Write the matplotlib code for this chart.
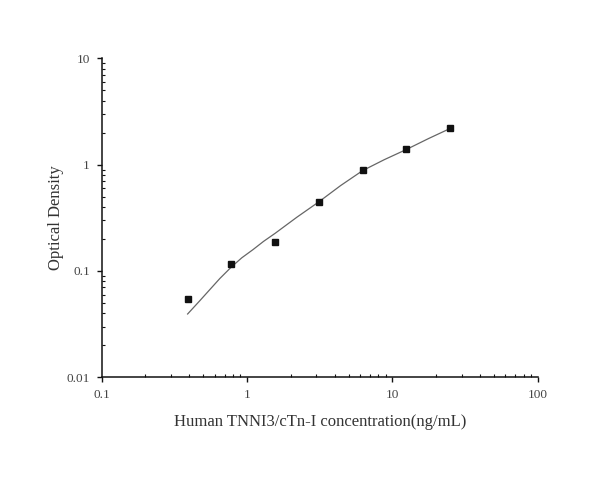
import matplotlib
matplotlib.use("Agg")
import matplotlib.pyplot as plt
from matplotlib.ticker import LogLocator, FixedLocator, FixedFormatter, NullFormatter

# Standard points
conc = [0.39, 0.78, 1.56, 3.12, 6.25, 12.5, 25]
od = [0.054, 0.116, 0.186, 0.446, 0.897, 1.405, 2.21]

# Fitted curve
curve_x = [0.39, 0.47, 0.55, 0.65, 0.78, 0.92, 1.1, 1.3, 1.56, 2.2, 3.12, 4.4, 6.25, 8.8, 12.5, 17.7, 25]
curve_y = [0.0394, 0.052, 0.066, 0.085, 0.109, 0.133, 0.159, 0.19, 0.226, 0.32, 0.447, 0.635, 0.88, 1.114, 1.39, 1.757, 2.19]

xticks = [0.1, 1, 10, 100]
xticklabels = ["0.1", "1", "10", "100"]
yticks = [0.01, 0.1, 1, 10]
yticklabels = ["0.01", "0.1", "1", "10"]

plt.rcParams['font.family'] = ['Liberation Serif', 'DejaVu Serif']

fig = plt.figure(figsize=(6.08, 4.92), dpi=100)
ax = fig.add_axes([0.1673, 0.2331, 0.7171, 0.6484])

ax.plot(curve_x, curve_y, color='#666666', linewidth=0.9, zorder=2)
ax.plot(conc, od, linestyle='none', marker='s', markersize=5.0,
        color='#111111', zorder=3)

ax.set_xscale('log')
ax.set_yscale('log')
ax.set_xlim(0.1, 100)
ax.set_ylim(0.01, 10)

ax.xaxis.set_major_locator(FixedLocator(xticks))
ax.xaxis.set_major_formatter(FixedFormatter(xticklabels))
ax.yaxis.set_major_locator(FixedLocator(yticks))
ax.yaxis.set_major_formatter(FixedFormatter(yticklabels))
ax.xaxis.set_minor_locator(LogLocator(base=10, subs=range(2, 10)))
ax.yaxis.set_minor_locator(LogLocator(base=10, subs=range(2, 10)))
ax.xaxis.set_minor_formatter(NullFormatter())
ax.yaxis.set_minor_formatter(NullFormatter())

for s in ['top', 'right']:
    ax.spines[s].set_visible(False)
for s in ['left', 'bottom']:
    ax.spines[s].set_linewidth(1.1)
    ax.spines[s].set_color('#111111')

ax.tick_params(which='major', direction='out', length=3.5, width=1.0,
               colors='#111111', labelcolor='#444444', labelsize=9.5, pad=5)
ax.tick_params(which='minor', direction='in', length=2.2, width=0.8,
               colors='#111111')

ax.set_xlabel('Human TNNI3/cTn-I concentration(ng/mL)', fontsize=12,
              color='#333333', labelpad=9)
ax.set_ylabel('Optical Density', fontsize=12, color='#333333', labelpad=1.5)

fig.savefig('out.png', dpi=100, facecolor='white')
